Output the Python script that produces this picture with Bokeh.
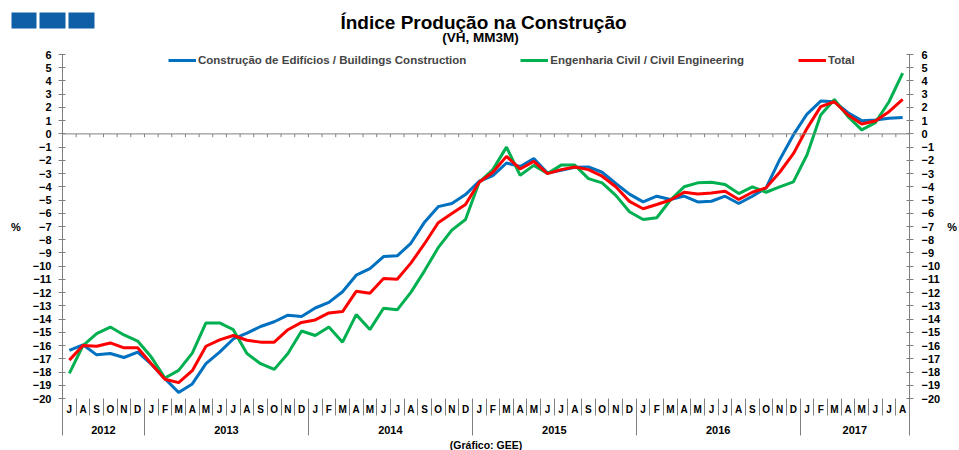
from bokeh.plotting import figure
from bokeh.layouts import column
from bokeh.models import (LinearAxis, FixedTicker, Span, Label, Legend, LegendItem,
                          ColumnDataSource, Range1d, Title)
from bokeh.embed import file_html
from bokeh.resources import INLINE

# ---------------- data ----------------
years = ["2012", "2013", "2014", "2015", "2016", "2017"]
year_months = [6, 12, 12, 12, 12, 8]
months = (["J", "A", "S", "O", "N", "D"]
          + ["J", "F", "M", "A", "M", "J", "J", "A", "S", "O", "N", "D"] * 4
          + ["J", "F", "M", "A", "M", "J", "J", "A"])

buildings = [-16.37, -15.94, -16.7, -16.6, -16.9, -16.5,
             -17.4, -18.5, -19.55, -18.9, -17.37, -16.5, -15.5, -15.06, -14.56, -14.2, -13.7, -13.8,
             -13.16, -12.73, -11.93, -10.68, -10.18, -9.27, -9.22, -8.27, -6.67, -5.5, -5.26, -4.59,
             -3.58, -3.16, -2.2, -2.46, -1.86, -2.96, -2.76, -2.53, -2.5, -2.9, -3.75, -4.55,
             -5.14, -4.71, -4.96, -4.7, -5.14, -5.09, -4.71, -5.26, -4.71, -4.08, -1.95, -0.08,
             1.5, 2.48, 2.43, 1.6, 1.0, 1.05, 1.18, 1.23]
civil = [-18.1, -16.0, -15.1, -14.6, -15.2, -15.66,
         -16.87, -18.45, -17.87, -16.57, -14.29, -14.29, -14.8, -16.6, -17.37, -17.8, -16.6, -14.9,
         -15.24, -14.6, -15.74, -13.66, -14.79, -13.18, -13.3, -11.98, -10.35, -8.6, -7.27, -6.47,
         -3.66, -2.7, -1.0, -3.13, -2.38, -3.0, -2.36, -2.36, -3.38, -3.7, -4.65, -5.89,
         -6.47, -6.34, -5.0, -4.0, -3.7, -3.66, -3.83, -4.51, -4.0, -4.41, -4.0, -3.63,
         -1.58, 1.43, 2.6, 1.3, 0.3, 0.85, 2.43, 4.6]
total = [-17.1, -16.0, -16.05, -15.8, -16.17, -16.17,
         -17.37, -18.55, -18.8, -17.9, -16.05, -15.57, -15.24, -15.6, -15.74, -15.74, -14.8, -14.25,
         -14.06, -13.53, -13.43, -11.9, -12.05, -10.93, -10.98, -9.77, -8.3, -6.72, -6.02, -5.34,
         -3.66, -2.9, -1.7, -2.65, -2.08, -3.0, -2.7, -2.5, -2.7, -3.2, -4.0, -5.1,
         -5.66, -5.34, -5.0, -4.41, -4.54, -4.46, -4.34, -4.96, -4.41, -4.08, -2.9, -1.5,
         0.42, 2.06, 2.43, 1.43, 0.75, 0.98, 1.68, 2.6]

series_names = ["Construção de Edifícios / Buildings Construction",
                "Engenharia Civil / Civil Engineering",
                "Total"]
y_ticks = list(range(-20, 7))

title_text = "Índice Produção na Construção"
subtitle_text = "(VH, MM3M)"
footer_text = "(Gráfico: GEE)"

# ---------------- layout constants ----------------
W = 959
TOP_H = 46
H = 450 - TOP_H
FL, FR = 62, 917
FT, FB = 8, 354          # frame top/bottom inside the main canvas
N = len(months)
YMIN, YMAX = -20, 6
FONT = "Liberation Sans"
GREY = "#808080"

# ---------------- header (title, subtitle, squares) ----------------
top = figure(width=W, height=TOP_H, output_backend="svg", toolbar_location=None,
             x_range=Range1d(0, W), y_range=Range1d(TOP_H, 0),
             x_axis_location=None, y_axis_location=None, title_location=None,
             min_border=0)
top.grid.visible = False
top.outline_line_color = None
top.border_fill_color = "white"
top.background_fill_color = "white"
top.quad(left=[11, 39, 68], right=[36, 65, 94], top=[12, 12, 12], bottom=[28, 28, 28],
         fill_color="#0F5FA6", line_color=None)
top.add_layout(Label(x=483, y=22, text=title_text, text_align="center",
                     text_baseline="middle", text_font=FONT, text_font_style="bold",
                     text_font_size="19px", text_color="black"))
top.add_layout(Label(x=480, y=37, text=subtitle_text, text_align="center",
                     text_baseline="middle", text_font=FONT, text_font_style="bold",
                     text_font_size="13.5px", text_color="black"))

# ---------------- main chart ----------------
x = list(range(N))
src = ColumnDataSource(dict(x=x, b=buildings, c=civil, t=total))

p = figure(width=W, height=H, output_backend="svg", toolbar_location=None,
           x_range=Range1d(-0.5, N - 0.5), y_range=Range1d(YMIN, YMAX),
           x_axis_location=None, y_axis_location=None, title_location=None,
           min_border_left=FL, min_border_right=W - FR,
           min_border_top=FT, min_border_bottom=H - FB)
p.grid.visible = False
p.outline_line_color = None
p.background_fill_color = "white"
p.border_fill_color = "white"

for fig in (top, p):
    if "frame_align" in fig.properties():
        fig.frame_align = False

# y axes
for side, sto in (("left", 9), ("right", 4)):
    ax = LinearAxis(ticker=FixedTicker(ticks=y_ticks, minor_ticks=[]))
    ax.major_tick_in = 3
    ax.major_tick_out = 4
    ax.minor_tick_line_color = None
    ax.axis_line_color = GREY
    ax.major_tick_line_color = GREY
    ax.major_label_text_font = FONT
    ax.major_label_text_font_style = "bold"
    ax.major_label_text_font_size = "11px"
    ax.major_label_text_color = "black"
    ax.major_label_standoff = 7 if side == "left" else 8
    ax.axis_label = "%"
    ax.axis_label_standoff = sto
    ax.axis_label_text_font = FONT
    ax.axis_label_text_font_style = "bold"
    ax.axis_label_text_font_size = "11px"
    ax.axis_label_text_color = "black"
    if "axis_label_orientation" in ax.properties():
        ax.axis_label_orientation = "horizontal"
    p.add_layout(ax, side)

# month axis
bounds = [k - 0.5 for k in range(N + 1)]
mx = LinearAxis(ticker=FixedTicker(ticks=x, minor_ticks=bounds),
                major_label_overrides={i: m for i, m in enumerate(months)})
mx.axis_line_color = None
mx.major_tick_line_color = None
mx.major_tick_in = 0
mx.major_tick_out = 0
mx.minor_tick_in = 0
mx.minor_tick_out = 17
mx.minor_tick_line_color = GREY
mx.major_label_standoff = -12
mx.major_label_text_font = FONT
mx.major_label_text_font_style = "bold"
mx.major_label_text_font_size = "10px"
mx.major_label_text_color = "black"
p.add_layout(mx, "below")

# year axis
ybounds = [-0.5]
for n in year_months:
    ybounds.append(ybounds[-1] + n)
ycenters = [(ybounds[i] + ybounds[i + 1]) / 2 for i in range(len(years))]
yx = LinearAxis(ticker=FixedTicker(ticks=ycenters, minor_ticks=ybounds),
                major_label_overrides={c: yv for c, yv in zip(ycenters, years)})
yx.axis_line_color = None
yx.major_tick_line_color = None
yx.major_tick_in = 0
yx.major_tick_out = 0
yx.minor_tick_in = 17
yx.minor_tick_out = 18
yx.minor_tick_line_color = GREY
yx.major_label_standoff = -10
yx.major_label_text_font = FONT
yx.major_label_text_font_style = "bold"
yx.major_label_text_font_size = "11px"
yx.major_label_text_color = "black"
p.add_layout(yx, "below")

# footer
p.add_layout(Title(text=footer_text, align="center", text_font=FONT,
                   text_font_style="bold", text_font_size="10.5px",
                   text_color="black", standoff=0), "below")

# zero line with month ticks
p.add_layout(Span(location=0, dimension="width", line_color=GREY, line_width=1))
inner = bounds[1:-1]
p.segment(x0=inner, x1=inner, y0=[0] * len(inner), y1=[-0.25] * len(inner),
          line_color=GREY, line_width=1)

# series
r_b = p.line("x", "b", source=src, line_color="#0070C0", line_width=3)
r_c = p.line("x", "c", source=src, line_color="#00B050", line_width=3)
r_t = p.line("x", "t", source=src, line_color="#FF0000", line_width=3)

legend = Legend(items=[LegendItem(label=series_names[0], renderers=[r_b]),
                       LegendItem(label=series_names[1], renderers=[r_c]),
                       LegendItem(label=series_names[2], renderers=[r_t])],
                orientation="horizontal", location=(106, FB - FT - 15),
                padding=0, margin=0, spacing=54,
                glyph_width=28, glyph_height=14, label_height=14, label_standoff=2,
                label_text_font=FONT, label_text_font_style="bold",
                label_text_font_size="11.5px", border_line_color=None,
                background_fill_alpha=0)
p.add_layout(legend)

layout = column(top, p, spacing=0)
open("out.html", "w").write(file_html(layout, INLINE))
